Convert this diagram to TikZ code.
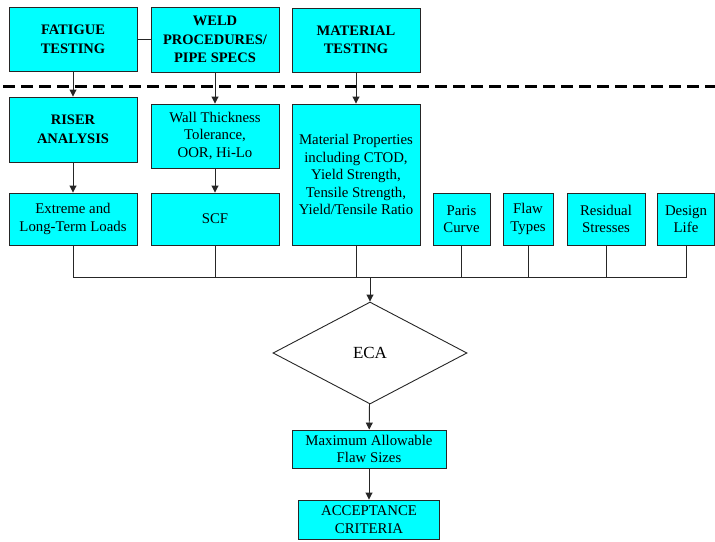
\documentclass[tikz,border=0pt]{standalone}
\usepackage{fontspec}
\setmainfont{Liberation Serif}
\usetikzlibrary{shapes.geometric,arrows.meta,positioning}

\definecolor{boxcyan}{RGB}{0,255,255}
\tikzset{
  box/.style={draw=black!85, fill=boxcyan, line width=0.9pt, align=center,
    inner sep=1pt, font=\fontsize{14.8}{17.5}\selectfont},
  headbox/.style={box, font=\fontsize{14.5}{18.5}\selectfont\bfseries},
  flow/.style={draw=black!85, line width=0.9pt},
  arr/.style={flow, -{Triangle[length=7pt,width=7pt]}}
}

\begin{document}
\begin{tikzpicture}[x=1pt, y=-1pt]
  \useasboundingbox (0,0) rectangle (715,541);

  % test programmes
  \node[headbox, minimum width=128pt, minimum height=64pt] (fatigue) at (73,39.5) {FATIGUE\\TESTING};
  \node[headbox, minimum width=128pt, minimum height=65pt] (weld) at (215,39.5) {WELD\\PROCEDURES/\\PIPE SPECS};
  \node[headbox, minimum width=128pt, minimum height=64pt] (mattest) at (356,40) {MATERIAL\\TESTING};

  % dashed separator
  \coordinate (sepl) at (3,86);
  \coordinate (sepr) at (715,86);
  \draw[line width=3pt, dash pattern=on 12pt off 6pt] (sepl) -- (sepr);

  % second row
  \node[headbox, minimum width=128pt, minimum height=65pt] (riser) at (73,129.5) {RISER\\ANALYSIS};
  \node[box, minimum width=128pt, minimum height=64pt] (wall) at (215,136) {Wall Thickness\\Tolerance,\\OOR, Hi-Lo};
  \node[box, minimum width=128pt, minimum height=141pt] (matprop) at (356,174.5) {Material Properties\\including CTOD,\\Yield Strength,\\Tensile Strength,\\Yield/Tensile Ratio};

  % inputs to the ECA
  \node[box, minimum width=128pt, minimum height=52pt] (loads) at (73,219) {Extreme and\\Long-Term Loads};
  \node[box, minimum width=128pt, minimum height=52pt] (scf) at (215,219) {SCF};
  \node[box, minimum width=57pt, minimum height=52pt] (paris) at (461.5,219) {Paris\\Curve};
  \node[box, minimum width=50pt, minimum height=52pt] (flaw) at (528,219) {Flaw\\Types};
  \node[box, minimum width=78pt, minimum height=52pt] (resid) at (606,219) {Residual\\Stresses};
  \node[box, minimum width=57pt, minimum height=52pt] (design) at (686,219) {Design\\Life};

  % assessment
  \node[draw=black!85, fill=white, line width=0.9pt, diamond, aspect=1.9,
    minimum width=194pt, minimum height=102pt, inner sep=0pt,
    font=\fontsize{17}{20}\selectfont] (eca) at (370,353) {ECA};
  \node[box, minimum width=154pt, minimum height=38pt] (maxflaw) at (369,449) {Maximum Allowable\\Flaw Sizes};
  \node[box, minimum width=141pt, minimum height=39pt] (accept) at (369,519.5) {ACCEPTANCE\\CRITERIA};

  % connectors
  \draw[flow] (fatigue) -- (weld);
  \draw[arr] (fatigue) -- (riser);
  \draw[arr] (weld) -- (wall);
  \draw[arr] (mattest) -- (matprop);
  \draw[arr] (riser) -- (loads);
  \draw[arr] (wall) -- (scf);

  \coordinate (busl) at (73,277);
  \coordinate (busr) at (686,277);
  \draw[flow] (loads.south) -- (busl) -- (busr) -- (design.south);
  \foreach \n in {scf,matprop,paris,flaw,resid}
    \draw[flow] (\n.south) -- (\n.south |- busl);
  \draw[arr] (eca.north |- busl) -- (eca.north);
  \draw[arr] (eca) -- (maxflaw);
  \draw[arr] (maxflaw) -- (accept);
\end{tikzpicture}
\end{document}
